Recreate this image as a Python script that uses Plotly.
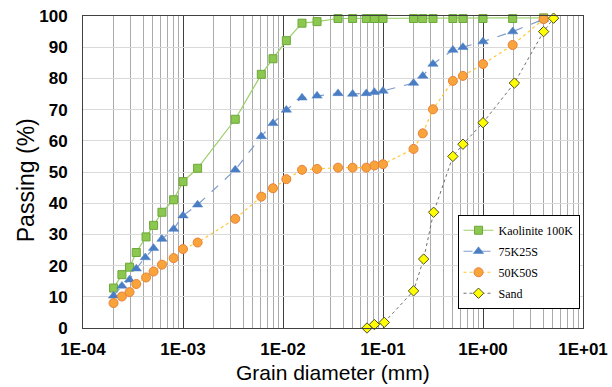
import plotly.graph_objects as go

# Kaolinite 100K
k100_x = [2.02e-4, 2.45e-4, 2.92e-4, 3.41e-4, 4.27e-4, 5.08e-4, 6.16e-4, 8.06e-4, 1.0e-3, 1.4e-3,
          3.33e-3, 6.07e-3, 7.94e-3, 1.08e-2, 1.55e-2, 2.19e-2, 3.55e-2, 4.97e-2, 6.8e-2, 8.2e-2,
          0.1, 0.202, 0.25, 0.316, 0.5, 0.63, 1.0, 1.98, 4.04]
k100_y = [12.8, 17.1, 19.5, 24.2, 29.2, 32.9, 37.1, 41.1, 46.9, 51.2,
          66.9, 81.3, 86.3, 92.1, 97.7, 98.2, 99.2, 99.2, 99.2, 99.2,
          99.2, 99.2, 99.2, 99.2, 99.2, 99.2, 99.2, 99.2, 99.4]

# 75K25S
k75_x = [2.02e-4, 2.45e-4, 2.92e-4, 3.41e-4, 4.2e-4, 5.08e-4, 6.16e-4, 8.06e-4, 1.0e-3, 1.4e-3,
         3.33e-3, 6.07e-3, 7.94e-3, 1.08e-2, 1.55e-2, 2.19e-2, 3.55e-2, 4.97e-2, 6.8e-2, 8.2e-2,
         0.1, 0.202, 0.25, 0.316, 0.5, 0.63, 1.0, 1.98, 4.04]
k75_y = [10.3, 13.5, 15.5, 19.0, 22.6, 25.6, 28.5, 31.7, 36.0, 39.5,
         50.7, 61.4, 65.6, 69.9, 73.8, 74.4, 75.2, 75.0, 75.2, 75.6,
         76.0, 78.5, 80.8, 84.6, 89.1, 90.0, 91.8, 95.0, 99.0]

# 50K50S
k50_x = [2.02e-4, 2.45e-4, 2.92e-4, 3.41e-4, 4.27e-4, 5.08e-4, 6.16e-4, 8.06e-4, 1.0e-3, 1.4e-3,
         3.33e-3, 6.07e-3, 7.94e-3, 1.08e-2, 1.55e-2, 2.19e-2, 3.55e-2, 4.97e-2, 6.8e-2, 8.2e-2,
         0.1, 0.202, 0.25, 0.316, 0.5, 0.63, 1.0, 1.98, 4.04]
k50_y = [8.0, 10.1, 11.5, 14.1, 16.2, 18.1, 20.3, 22.4, 25.3, 27.4,
         35.0, 42.1, 44.8, 47.7, 50.7, 51.0, 51.4, 51.4, 51.4, 52.1,
         52.5, 57.4, 62.4, 70.1, 79.2, 80.8, 84.6, 90.7, 99.0]

# Sand
sand_x = [6.92e-2, 8.2e-2, 0.103, 0.202, 0.255, 0.321, 0.5, 0.63, 1.0, 2.06, 4.04, 5.08]
sand_y = [0.0, 1.1, 1.8, 11.9, 22.1, 37.1, 55.0, 58.9, 65.8, 78.5, 95.0, 99.3]

x_tickvals = [1e-4, 1e-3, 1e-2, 1e-1, 1e0, 1e1]
x_ticktext = ["1E-04", "1E-03", "1E-02", "1E-01", "1E+00", "1E+01"]
y_tickvals = [0, 10, 20, 30, 40, 50, 60, 70, 80, 90, 100]

fig = go.Figure()
fig.add_trace(go.Scatter(
    x=k100_x, y=k100_y, name="Kaolinite 100K", mode="lines+markers", legendgroup="a",
    line=dict(color="#9BCF6A", width=1.2),
    marker=dict(symbol="square", size=8, color="#8CC74F", line=dict(color="#6DA83A", width=1)),
    cliponaxis=False))
fig.add_trace(go.Scatter(
    x=k75_x, y=k75_y, name="75K25S", mode="lines+markers", legendgroup="b",
    line=dict(color="#7F9CCB", width=1.2, dash="dash"),
    marker=dict(symbol="triangle-up", size=9, color="#4A7EC4", line=dict(color="#4A7EC4", width=0.5)),
    cliponaxis=False))
fig.add_trace(go.Scatter(
    x=k50_x, y=k50_y, name="50K50S", mode="lines+markers", legendgroup="c",
    line=dict(color="#FFC933", width=1.2, dash="dot"),
    marker=dict(symbol="circle", size=9, color="#F9A43A", line=dict(color="#E8803A", width=1)),
    cliponaxis=False))
fig.add_trace(go.Scatter(
    x=sand_x, y=sand_y, name="Sand", mode="lines+markers", legendgroup="d",
    line=dict(color="#707070", width=1, dash="dot"),
    marker=dict(symbol="diamond", size=8, color="#FFFF00", line=dict(color="#4D4D2A", width=1)),
    cliponaxis=False))

fig.update_layout(
    width=612, height=387,
    margin=dict(l=83, r=29, t=16, b=59, autoexpand=False),
    paper_bgcolor="white", plot_bgcolor="white",
    font=dict(family="Liberation Sans, Arial, sans-serif", color="black"),
    legend=dict(
        x=0.749, y=0.363, xanchor="left", yanchor="top",
        bgcolor="white", bordercolor="black", borderwidth=1,
        font=dict(family="Liberation Serif, Times New Roman, serif", size=12, color="black"),
        traceorder="grouped", tracegroupgap=2, itemwidth=30),
    showlegend=True,
    annotations=[
        dict(text="Passing (%)", textangle=-90, xref="paper", yref="paper",
             x=-0.115, y=0.472, xanchor="center", yanchor="middle", showarrow=False,
             font=dict(size=23, color="black")),
        dict(text="Grain diameter (mm)", xref="paper", yref="paper",
             x=0.5, y=-0.142, xanchor="center", yanchor="middle", showarrow=False,
             font=dict(size=21, color="black")),
    ],
)
fig.update_xaxes(
    type="log", range=[-4, 1], automargin=False,
    tickvals=x_tickvals, ticktext=x_ticktext,
    tickfont=dict(size=17, weight="bold", color="black"),
    ticklabelstandoff=6,
    showgrid=True, gridcolor="#404040", gridwidth=1,
    minor=dict(showgrid=True, gridcolor="#ABABAB", gridwidth=1, dtick="D1", ticks=""),
    showline=True, linecolor="#404040", linewidth=1, mirror=True,
    ticks="", zeroline=False,
)
fig.update_yaxes(
    range=[0, 100], tickvals=y_tickvals, automargin=False,
    tickfont=dict(size=17, weight="bold", color="black"),
    ticklabelstandoff=11,
    showgrid=True, gridcolor="#D9D9D9", gridwidth=1,
    showline=True, linecolor="#404040", linewidth=1, mirror=True,
    ticks="", zeroline=False,
)

fig.write_html("out.html")
